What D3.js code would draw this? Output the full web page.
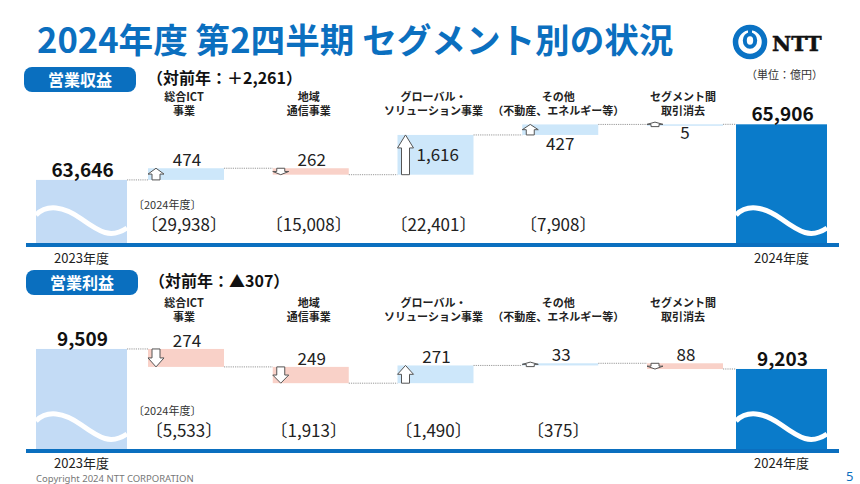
<!DOCTYPE html>
<html><head><meta charset="utf-8">
<script src="https://cdn.jsdelivr.net/npm/d3@7"></script>
<style>
html,body{margin:0;padding:0;background:#fff;}
svg{display:block;font-family:"Noto Sans CJK JP","Noto Sans",sans-serif;}
</style></head>
<body><svg id="c" width="860" height="484"></svg>
<script>
// ---- data ----
const categories = ["総合ICT\n事業", "地域\n通信事業", "グローバル・\nソリューション事業", "その他\n（不動産、エネルギー等）", "セグメント間\n取引消去"];
const yearLabels = ["2023年度", "2024年度"];
const revenueStart = 63646, revenueEnd = 65906;
const revenueDelta = [474, -262, 1616, 427, 5];
const revenue2024 = [29938, 15008, 22401, 7908];
const revenueChange = "（対前年：＋2,261）";
const revenueLabelPos = ["above", "above", "inside", "below", "below"];
const profitStart = 9509, profitEnd = 9203;
const profitDelta = [-274, -249, 271, 33, -88];
const profit2024 = [5533, 1913, 1490, 375];
const profitChange = "（対前年：▲307）";
const profitLabelPos = ["above", "above", "above", "above", "above"];

const C = {title:"#0b6fbf", pill:"#0a6fbf", start:"#c3dbf5", up:"#cde7fa", down:"#f9d1c8", end:"#0a7bca", axis:"#0b6fbf"};
const fmt = d3.format(",");
const svg = d3.select("#c");

// title
svg.append("text").attr("x", 37).attr("y", 53).attr("font-size", 34.6).attr("font-weight", 700)
  .attr("fill", C.title).text("2024年度 第2四半期 セグメント別の状況");

// NTT logo
const logo = svg.append("g");
logo.append("circle").attr("cx", 750).attr("cy", 42).attr("r", 14.5).attr("fill", "none").attr("stroke", "#0a72c4").attr("stroke-width", 5.5);
logo.append("ellipse").attr("cx", 750).attr("cy", 40.5).attr("rx", 5.2).attr("ry", 6.2).attr("fill", "none").attr("stroke", "#0a72c4").attr("stroke-width", 4);
logo.append("line").attr("x1", 750).attr("x2", 750).attr("y1", 28).attr("y2", 33).attr("stroke", "#0a72c4").attr("stroke-width", 4);
logo.append("text").attr("x", 772).attr("y", 50.5).attr("font-family", "DejaVu Serif").attr("font-weight", 700)
  .attr("font-size", 21).attr("fill", "#111").attr("stroke", "#111").attr("stroke-width", 0.5).text("NTT");
svg.append("text").attr("x", 823).attr("y", 79).attr("text-anchor", "end").attr("font-size", 11).attr("fill", "#333").text("（単位：億円）");

// x scales
const xDelta = d3.scalePoint().domain(categories).range([186, 685]);
const xYear = d3.scalePoint().domain(yearLabels).range([81.5, 781.5]);
const dW = 76, bW = 91;

function arrowPath(x, y0, y1, up) {
  const w = 16, h = y1 - y0, head = Math.min(h * 0.5, 13), s0 = 4, s1 = 12;
  if (up) return `M${x+w/2},${y0}L${x+w},${y0+head}L${x+s1},${y0+head}L${x+s1},${y1}L${x+s0},${y1}L${x+s0},${y0+head}L${x},${y0+head}Z`;
  return `M${x+w/2},${y1}L${x+w},${y1-head}L${x+s1},${y1-head}L${x+s1},${y0}L${x+s0},${y0}L${x+s0},${y1-head}L${x},${y1-head}Z`;
}

function wave(x0, w, b) {
  return `M${x0},${b-30} C${x0+0.12*w},${b-41} ${x0+0.3*w},${b-39} ${x0+0.5*w},${b-26} S${x0+0.82*w},${b-6} ${x0+w},${b-17}`;
}

function section(o) {
  const g = svg.append("g");
  const y = o.y, b = y.range()[0];
  // pill + title
  g.append("rect").attr("x", o.pillX).attr("y", o.pillY).attr("width", 112).attr("height", 25).attr("rx", 8).attr("fill", C.pill);
  g.append("text").attr("x", o.pillX + 56).attr("y", o.pillY + 18.5).attr("text-anchor", "middle").attr("font-size", 16)
    .attr("font-weight", 700).attr("fill", "#fff").text(o.name);
  g.append("text").attr("x", o.pillX + 123).attr("y", o.pillY + 17).attr("font-size", 16).attr("font-weight", 700)
    .attr("fill", "#111").text(o.change);
  // category labels (one text element, two lines)
  categories.forEach(c => {
    const t = g.append("text").attr("text-anchor", "middle").attr("font-size", 11).attr("font-weight", 700).attr("fill", "#222");
    c.split("\n").forEach((ln, i) => {
      t.append("tspan").attr("x", xDelta(c) - 2).attr("y", o.catY + i * 13.5).text(ln);
    });
  });
  // start/end bars
  const vals = [o.start, o.end];
  yearLabels.forEach((yl, i) => {
    const x0 = xYear(yl) - bW / 2, top = y(vals[i]);
    g.append("rect").attr("x", x0).attr("y", top).attr("width", bW).attr("height", b - top).attr("fill", i ? C.end : C.start);
    if (o.wave) g.append("path").attr("d", wave(x0, bW, b)).attr("fill", "none").attr("stroke", "#fff").attr("stroke-width", 5);
    g.append("text").attr("x", xYear(yl) + 1).attr("y", top - 3).attr("text-anchor", "middle").attr("font-size", 19)
      .attr("font-weight", 700).attr("fill", "#111").text(fmt(vals[i]));
    g.append("text").attr("x", xYear(yl)).attr("y", b + o.yearDy).attr("text-anchor", "middle").attr("font-size", 13)
      .attr("fill", "#222").text(yl);
  });
  // deltas
  let run = o.start;
  let prevRight = xYear(yearLabels[0]) + bW / 2;
  o.delta.forEach((d, i) => {
    const c = categories[i], x0 = xDelta(c) - dW / 2;
    const a = run, n = run + d;
    const top = y(Math.max(a, n)), bot = y(Math.min(a, n));
    g.append("line").attr("x1", prevRight).attr("x2", x0).attr("y1", y(a)).attr("y2", y(a))
      .attr("stroke", "#999").attr("stroke-width", 1).attr("stroke-dasharray", "1.2,1");
    g.append("rect").attr("x", x0).attr("y", top).attr("width", dW).attr("height", Math.max(bot - top, 1.5))
      .attr("fill", d > 0 ? C.up : C.down);
    const ah = Math.max(bot - top, 4.5), mid = (top + bot) / 2;
    const ay0 = (bot - top) >= 4.5 ? top : mid - ah / 2;
    g.append("path").attr("d", arrowPath(x0, ay0, ay0 + ah, d > 0)).attr("fill", "#fff").attr("stroke", "#555").attr("stroke-width", 1);
    const pos = o.labelPos[i];
    const t = g.append("text").attr("font-size", 17).attr("fill", "#222").text(fmt(Math.abs(d)));
    if (pos === "inside") t.attr("x", x0 + 19).attr("y", mid + 6);
    else if (pos === "below") t.attr("x", xDelta(c)).attr("y", bot + 15).attr("text-anchor", "middle");
    else t.attr("x", xDelta(c) + 1).attr("y", top - 2).attr("text-anchor", "middle");
    run = n;
    prevRight = x0 + dW;
  });
  g.append("line").attr("x1", prevRight).attr("x2", xYear(yearLabels[1]) - bW / 2).attr("y1", y(o.end)).attr("y2", y(o.end))
    .attr("stroke", "#999").attr("stroke-width", 1).attr("stroke-dasharray", "1.2,1");
  // 2024 values
  g.append("text").attr("x", 133).attr("y", o.v24Y - 22).attr("font-size", 11).attr("fill", "#333").text("〔2024年度〕");
  o.v2024.forEach((v, i) => {
    g.append("text").attr("x", xDelta(categories[i]) - 2).attr("y", o.v24Y).attr("text-anchor", "middle")
      .attr("font-size", 17).attr("fill", "#222").text("〔" + fmt(v) + "〕");
  });
  // axis line
  g.append("line").attr("x1", 26).attr("x2", 839).attr("y1", b).attr("y2", b).attr("stroke", C.axis).attr("stroke-width", 4);
}

section({name:"営業収益", change:revenueChange, pillX:24, pillY:67, catY:101,
  start:revenueStart, end:revenueEnd, delta:revenueDelta, v2024:revenue2024, labelPos:revenueLabelPos,
  y:d3.scaleLinear().domain([61000, 66000]).range([245, 122]), wave:true, yearDy:18, v24Y:231});
section({name:"営業利益", change:profitChange, pillX:26, pillY:270, catY:307,
  start:profitStart, end:profitEnd, delta:profitDelta, v2024:profit2024, labelPos:profitLabelPos,
  y:d3.scaleLinear().domain([7950, 9600]).range([451, 343]), wave:true, yearDy:17, v24Y:437});

// footer
svg.append("text").attr("x", 36).attr("y", 482).attr("font-family", "Noto Sans").attr("font-size", 9.5).attr("fill", "#777").text("Copyright 2024 NTT CORPORATION");
svg.append("text").attr("x", 846).attr("y", 481).attr("font-family", "Noto Sans").attr("font-size", 13).attr("fill", "#0b6fbf").text("5");
</script></body></html>
